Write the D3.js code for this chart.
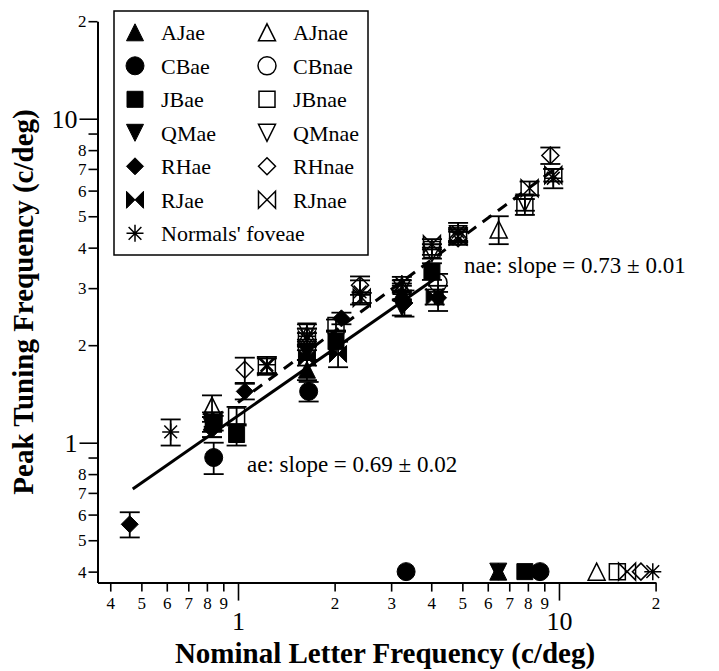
<!DOCTYPE html>
<html>
<head>
<meta charset="utf-8">
<script src="https://cdn.jsdelivr.net/npm/d3@7"></script>
<style>
  body { margin: 0; background: #fff; }
  text { font-family: "Liberation Serif", "Times New Roman", Times, "DejaVu Serif", serif; fill: #000; }
</style>
</head>
<body>
<svg id="chart" width="719" height="671"></svg>
<script>
// each point: [nominal letter frequency, peak tuning frequency, error]
const AJae  = [[0.83, 1.16, 0.08], [1.64, 1.68, 0.12], [3.24, 2.9, 0.15], [6.47, 0.4, 0]];
const CBae  = [[0.84, 0.9, 0.1], [1.66, 1.44, 0.1], [3.34, 0.4, 0], [8.73, 0.4, 0]];
const JBae  = [[0.84, 1.15, 0.06], [0.99, 1.06, 0.08], [2.02, 2.05, 0.17], [4.02, 3.38, 0.2], [7.83, 0.4, 0]];
const QMae  = [[0.83, 1.12, 0.08], [1.64, 1.9, 0.1], [3.24, 2.62, 0.15], [6.47, 0.4, 0]];
const RHae  = [[0.46, 0.56, 0.05], [0.83, 1.1, 0.06], [1.05, 1.44, 0.08], [2.1, 2.42, 0.1], [3.3, 2.7, 0.25], [4.2, 2.8, 0.25]];
const RJae  = [[0.84, 1.18, 0.06], [1.64, 1.83, 0.1], [2.05, 1.88, 0.17], [4.1, 2.82, 0.15]];

const AJnae = [[0.83, 1.3, 0.1], [1.64, 2.15, 0.1], [3.24, 3.05, 0.12], [6.49, 4.55, 0.45], [13.1, 0.4, 0]];
const CBnae = [[4.2, 3.12, 0.2]];
const JBnae = [[0.99, 1.21, 0.08], [2.02, 2.3, 0.1], [4.02, 3.95, 0.15], [7.83, 5.35, 0.3], [15.2, 0.4, 0]];
const QMnae = [[1.64, 2.2, 0.12], [3.24, 3.0, 0.1], [4.02, 3.85, 0.15], [4.85, 4.4, 0.2], [7.83, 5.5, 0.3]];
const RHnae = [[1.05, 1.68, 0.15], [2.4, 3.06, 0.2], [4.85, 4.28, 0.2], [9.4, 7.7, 0.45], [18.0, 0.4, 0]];
const RJnae = [[1.23, 1.72, 0.1], [1.64, 2.08, 0.1], [2.43, 2.8, 0.1], [4.02, 4.1, 0.15], [4.85, 4.34, 0.2], [8.1, 6.1, 0.3], [9.6, 6.7, 0.3], [16.3, 0.4, 0]];
const normals = [[0.617, 1.08, 0.1], [1.23, 1.74, 0.1], [1.64, 2.13, 0.12], [2.4, 2.92, 0.25], [3.24, 3.1, 0.15], [4.85, 4.47, 0.3], [9.6, 6.55, 0.45], [19.6, 0.4, 0]];

// fitted lines (end points)
const aeFit  = [[0.47, 0.72], [4.1, 3.2]];
const naeFit = [[1.0, 1.33], [9.6, 6.95]];

const xMinorTicks = [0.4, 0.5, 0.6, 0.7, 0.8, 0.9, 2, 3, 4, 5, 6, 7, 8, 9, 20];
const xMajorTicks = [1, 10];
const yMinorTicks = [0.4, 0.5, 0.6, 0.7, 0.8, 0.9, 2, 3, 4, 5, 6, 7, 8, 9, 20];
const yMajorTicks = [1, 10];
const yUnlabeled = [0.9, 9];

const series = [
  { name: "AJae", data: AJae, shape: "tri", filled: true },
  { name: "CBae", data: CBae, shape: "circle", filled: true },
  { name: "JBae", data: JBae, shape: "square", filled: true },
  { name: "QMae", data: QMae, shape: "triDown", filled: true },
  { name: "RHae", data: RHae, shape: "diamond", filled: true },
  { name: "RJae", data: RJae, shape: "bowtie", filled: true },
  { name: "AJnae", data: AJnae, shape: "tri", filled: false },
  { name: "CBnae", data: CBnae, shape: "circle", filled: false },
  { name: "JBnae", data: JBnae, shape: "square", filled: false },
  { name: "QMnae", data: QMnae, shape: "triDown", filled: false },
  { name: "RHnae", data: RHnae, shape: "diamond", filled: false },
  { name: "RJnae", data: RJnae, shape: "bowtie", filled: false },
  { name: "Normals' foveae", data: normals, shape: "star", filled: false }
];

const serif = '"Liberation Serif", "Times New Roman", Times, "DejaVu Serif", serif';
const svg = d3.select("#chart");

const x = d3.scaleLog().domain([0.365, 20]).range([97.5, 655.6]);
const y = d3.scaleLog().domain([0.37, 20]).range([582.6, 21.2]);

function shapePath(kind) {
  const h = 8.5;
  switch (kind) {
    case "tri": return `M0,${-h}L${h},${h}L${-h},${h}Z`;
    case "triDown": return `M${-h},${-h}L${h},${-h}L0,${h}Z`;
    case "square": return `M-8,-8H8V8H-8Z`;
    case "diamond": return `M0,${-h}L${h},0L0,${h}L${-h},0Z`;
    case "circle": return d3.arc()({ innerRadius: 0, outerRadius: 9, startAngle: 0, endAngle: 2 * Math.PI });
    case "bowtie": return `M${-h},${-h}L${h},${h}L${h},${-h}L${-h},${h}Z`;
    case "star": {
      const d = h * 0.75;
      return `M0,${-h}V${h}M${-h},0H${h}M${-d},${-d}L${d},${d}M${d},${-d}L${-d},${d}`;
    }
  }
}

function drawMarker(g, s) {
  g.append("path")
    .attr("d", shapePath(s.shape))
    .attr("fill", s.filled ? "#000" : "none")
    .attr("stroke", "#000")
    .attr("stroke-width", s.filled ? 1 : 1.5)
    .attr("stroke-linejoin", "miter");
}

// axes
const axisG = svg.append("g").attr("class", "axes");

const xMinor = axisG.append("g")
  .attr("transform", `translate(0,${y.range()[0]})`)
  .call(d3.axisBottom(x).tickValues(xMinorTicks)
    .tickFormat(d => d < 1 ? String(Math.round(d * 10)) : (d >= 20 ? "2" : String(d)))
    .tickSize(9).tickSizeOuter(0).tickPadding(5));
xMinor.select(".domain").attr("stroke-width", 2);
xMinor.selectAll(".tick line").attr("stroke-width", 1.6);
xMinor.selectAll("text").attr("font-size", 17);

const xMajor = axisG.append("g")
  .attr("transform", `translate(0,${y.range()[0]})`)
  .call(d3.axisBottom(x).tickValues(xMajorTicks).tickFormat(d3.format("d"))
    .tickSize(18).tickSizeOuter(0).tickPadding(11));
xMajor.select(".domain").remove();
xMajor.selectAll(".tick line").attr("stroke-width", 1.6);
xMajor.selectAll("text").attr("font-size", 26);

const yMinor = axisG.append("g")
  .attr("transform", `translate(${x.range()[0]},0)`)
  .call(d3.axisLeft(y).tickValues(yMinorTicks)
    .tickFormat(d => yUnlabeled.includes(d) ? "" : (d < 1 ? String(Math.round(d * 10)) : (d >= 20 ? "2" : String(d))))
    .tickSize(9).tickSizeOuter(0).tickPadding(2));
yMinor.select(".domain").attr("stroke-width", 2);
yMinor.selectAll(".tick line").attr("stroke-width", 1.6);
yMinor.selectAll("text").attr("font-size", 17);

const yMajor = axisG.append("g")
  .attr("transform", `translate(${x.range()[0]},0)`)
  .call(d3.axisLeft(y).tickValues(yMajorTicks).tickFormat(d3.format("d"))
    .tickSize(18).tickSizeOuter(0).tickPadding(2));
yMajor.select(".domain").remove();
yMajor.selectAll(".tick line").attr("stroke-width", 1.6);
yMajor.selectAll("text").attr("font-size", 26);

axisG.selectAll("g").attr("font-family", serif);
axisG.selectAll("text").attr("font-family", serif);

// axis titles
svg.append("text")
  .attr("x", 385).attr("y", 663)
  .attr("text-anchor", "middle")
  .attr("font-family", serif)
  .attr("font-size", 29).attr("font-weight", "bold")
  .text("Nominal Letter Frequency (c/deg)");

svg.append("text")
  .attr("transform", "translate(33,302) rotate(-90)")
  .attr("text-anchor", "middle")
  .attr("font-family", serif)
  .attr("font-size", 29).attr("font-weight", "bold")
  .text("Peak Tuning Frequency (c/deg)");

// fit lines
const line = d3.line().x(d => x(d[0])).y(d => y(d[1]));
svg.append("path").attr("d", line(aeFit))
  .attr("fill", "none").attr("stroke", "#000").attr("stroke-width", 3);
svg.append("path").attr("d", line(naeFit))
  .attr("fill", "none").attr("stroke", "#000").attr("stroke-width", 3)
  .attr("stroke-dasharray", "11,8");

// error bars
const errG = svg.append("g").attr("stroke", "#000").attr("stroke-width", 1.8);
series.forEach(s => {
  s.data.filter(d => d[2] > 0).forEach(d => {
    const cx = x(d[0]), y0 = y(d[1] - d[2]), y1 = y(d[1] + d[2]);
    errG.append("line").attr("x1", cx).attr("x2", cx).attr("y1", y0).attr("y2", y1);
    errG.append("line").attr("x1", cx - 10).attr("x2", cx + 10).attr("y1", y0).attr("y2", y0);
    errG.append("line").attr("x1", cx - 10).attr("x2", cx + 10).attr("y1", y1).attr("y2", y1);
  });
});

// markers
series.forEach(s => {
  svg.append("g").selectAll("g")
    .data(s.data)
    .join("g")
    .attr("transform", d => `translate(${x(d[0])},${y(d[1])})`)
    .each(function () { drawMarker(d3.select(this), s); });
});

// annotations
svg.append("text").attr("x", 464).attr("y", 273).attr("font-size", 23).attr("font-family", serif)
  .text("nae: slope = 0.73 \u00b1 0.01");
svg.append("text").attr("x", 247).attr("y", 472).attr("font-size", 23).attr("font-family", serif)
  .text("ae: slope = 0.69 \u00b1 0.02");

// legend
const legend = svg.append("g");
legend.append("rect")
  .attr("x", 114).attr("y", 11).attr("width", 254).attr("height", 244)
  .attr("fill", "#fff").attr("stroke", "#000").attr("stroke-width", 1.5);

const legendCols = [
  ["AJae", "CBae", "JBae", "QMae", "RHae", "RJae", "Normals' foveae"],
  ["AJnae", "CBnae", "JBnae", "QMnae", "RHnae", "RJnae"]
];
const colX = [135, 267];
legendCols.forEach((names, c) => {
  names.forEach((n, i) => {
    const s = series.find(t => t.name === n);
    const cy = 32.3 + i * 33.5;
    const g = legend.append("g").attr("transform", `translate(${colX[c]},${cy})`);
    drawMarker(g, s);
    legend.append("text")
      .attr("x", colX[c] + 26).attr("y", cy).attr("dy", "0.35em")
      .attr("font-family", serif)
      .attr("font-size", 22)
      .text(n);
  });
});
</script>
</body>
</html>
